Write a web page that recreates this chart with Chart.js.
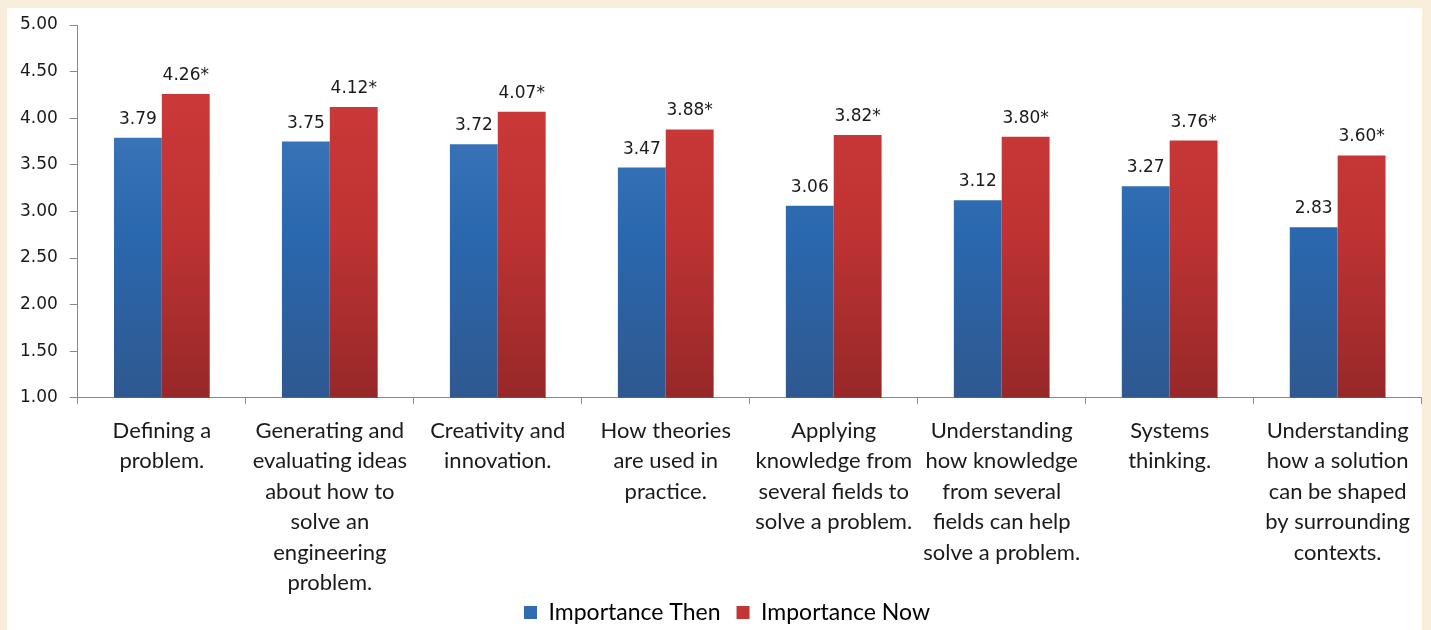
<!DOCTYPE html>
<html>
<head>
<meta charset="utf-8">
<script src="https://cdn.jsdelivr.net/npm/chart.js@4.4.1/dist/chart.umd.min.js"></script>
<style>
    html, body {
        margin: 0;
        padding: 0;
        background: #f8eedb;
    }
    #cadre {
        position: absolute;
        left: 7px;
        top: 8px;
        width: 1415px;
        height: 622px;
        background: #ffffff;
    }
</style>
</head>
<body>
<div id="cadre">
    <canvas id="graphique" width="1415" height="622"></canvas>
</div>
<script>
const categories = [
    ["Defining a", "problem."],
    ["Generating and", "evaluating ideas", "about how to", "solve an", "engineering", "problem."],
    ["Creativity and", "innovation."],
    ["How theories", "are used in", "practice."],
    ["Applying", "knowledge from", "several fields to", "solve a problem."],
    ["Understanding", "how knowledge", "from several", "fields can help", "solve a problem."],
    ["Systems", "thinking."],
    ["Understanding", "how a solution", "can be shaped", "by surrounding", "contexts."]
];

const importanceThen = [3.79, 3.75, 3.72, 3.47, 3.06, 3.12, 3.27, 2.83];
const importanceNow = [4.26, 4.12, 4.07, 3.88, 3.82, 3.80, 3.76, 3.60];

// les valeurs "now" sont significatives
const significatif = [true, true, true, true, true, true, true, true];

const seriesNames = ["Importance Then", "Importance Now"];

function degrade(context, haut, milieu, bas) {
    const chart = context.chart;
    const area = chart.chartArea;
    if (!area) {
        return milieu;
    }
    const g = chart.ctx.createLinearGradient(0, area.top, 0, area.bottom);
    g.addColorStop(0, haut);
    g.addColorStop(0.55, milieu);
    g.addColorStop(1, bas);
    return g;
}

const etiquettes = {
    id: 'etiquettes',
    afterDatasetsDraw(chart) {
        const ctx = chart.ctx;
        ctx.save();
        ctx.font = '17px "DejaVu Sans"';
        ctx.fillStyle = '#1a1a1a';
        ctx.textAlign = 'center';
        ctx.textBaseline = 'alphabetic';
        chart.data.datasets.forEach(function (ds, i) {
            const meta = chart.getDatasetMeta(i);
            meta.data.forEach(function (bar, j) {
                let texte = ds.data[j].toFixed(2);
                if (i === 1 && significatif[j]) {
                    texte += '*';
                }
                ctx.fillText(texte, bar.x, bar.y - 14);
            });
        });
        ctx.restore();
    }
};

// legende moins haute que ce que Chart.js prevoit (on remonte juste le haut)
const legendeSerree = {
    id: 'legendeSerree',
    afterInit(chart) {
        const legende = chart.legend;
        const fitOrigine = legende.fit;
        legende.fit = function () {
            fitOrigine.call(this);
            this.height = 30;
        };
    },
    afterLayout(chart) {
        chart.legend.top -= 13;
        chart.legend.left += 12;
        chart.legend.right += 12;
    }
};

const graph = document.getElementById('graphique');

new Chart(graph, {
    type: 'bar',
    data: {
        labels: categories,
        datasets: [{
            label: seriesNames[0],
            data: importanceThen,
            backgroundColor: (c) => degrade(c, '#4a80c2', '#2a68af', '#2f5890'),
            borderWidth: 0,
            barPercentage: 1,
            categoryPercentage: 0.57
        }, {
            label: seriesNames[1],
            data: importanceNow,
            backgroundColor: (c) => degrade(c, '#d23b3b', '#bf3333', '#972828'),
            borderWidth: 0,
            barPercentage: 1,
            categoryPercentage: 0.57
        }]
    },
    options: {
        responsive: false,
        animation: false,
        layout: {
            padding: {top: 2, right: 0, left: 1, bottom: 2}
        },
        plugins: {
            tooltip: {enabled: false},
            legend: {
                position: 'bottom',
                labels: {
                    color: '#1a1a1a',
                    font: {family: 'Lato', size: 23},
                    boxWidth: 13,
                    boxHeight: 13,
                    padding: 16,
                    generateLabels: function (chart) {
                        return seriesNames.map(function (nom, i) {
                            return {
                                text: nom,
                                fillStyle: i === 0 ? '#2f6cb3' : '#c23535',
                                strokeStyle: 'transparent',
                                lineWidth: 0,
                                datasetIndex: i
                            };
                        });
                    }
                }
            }
        },
        scales: {
            y: {
                min: 1,
                max: 5,
                ticks: {
                    stepSize: 0.5,
                    color: '#1a1a1a',
                    font: {family: 'DejaVu Sans', size: 17},
                    padding: 12,
                    callback: (v) => v.toFixed(2)
                },
                grid: {
                    drawOnChartArea: false,
                    tickLength: 8,
                    color: '#888888'
                },
                border: {color: '#888888'},
                afterFit: function (scale) {
                    scale.paddingTop = 17;
                }
            },
            x: {
                ticks: {
                    color: '#1a1a1a',
                    font: {family: 'Lato', size: 22, lineHeight: 1.38},
                    padding: 12,
                    autoSkip: false,
                    maxRotation: 0
                },
                grid: {
                    drawOnChartArea: false,
                    tickLength: 6,
                    color: '#888888'
                },
                border: {color: '#888888'},
                // le padding des ticks est compté deux fois, on le retire en bas
                afterFit: function (scale) {
                    scale.height -= 12;
                }
            }
        }
    },
    plugins: [etiquettes, legendeSerree]
});
</script>
</body>
</html>
